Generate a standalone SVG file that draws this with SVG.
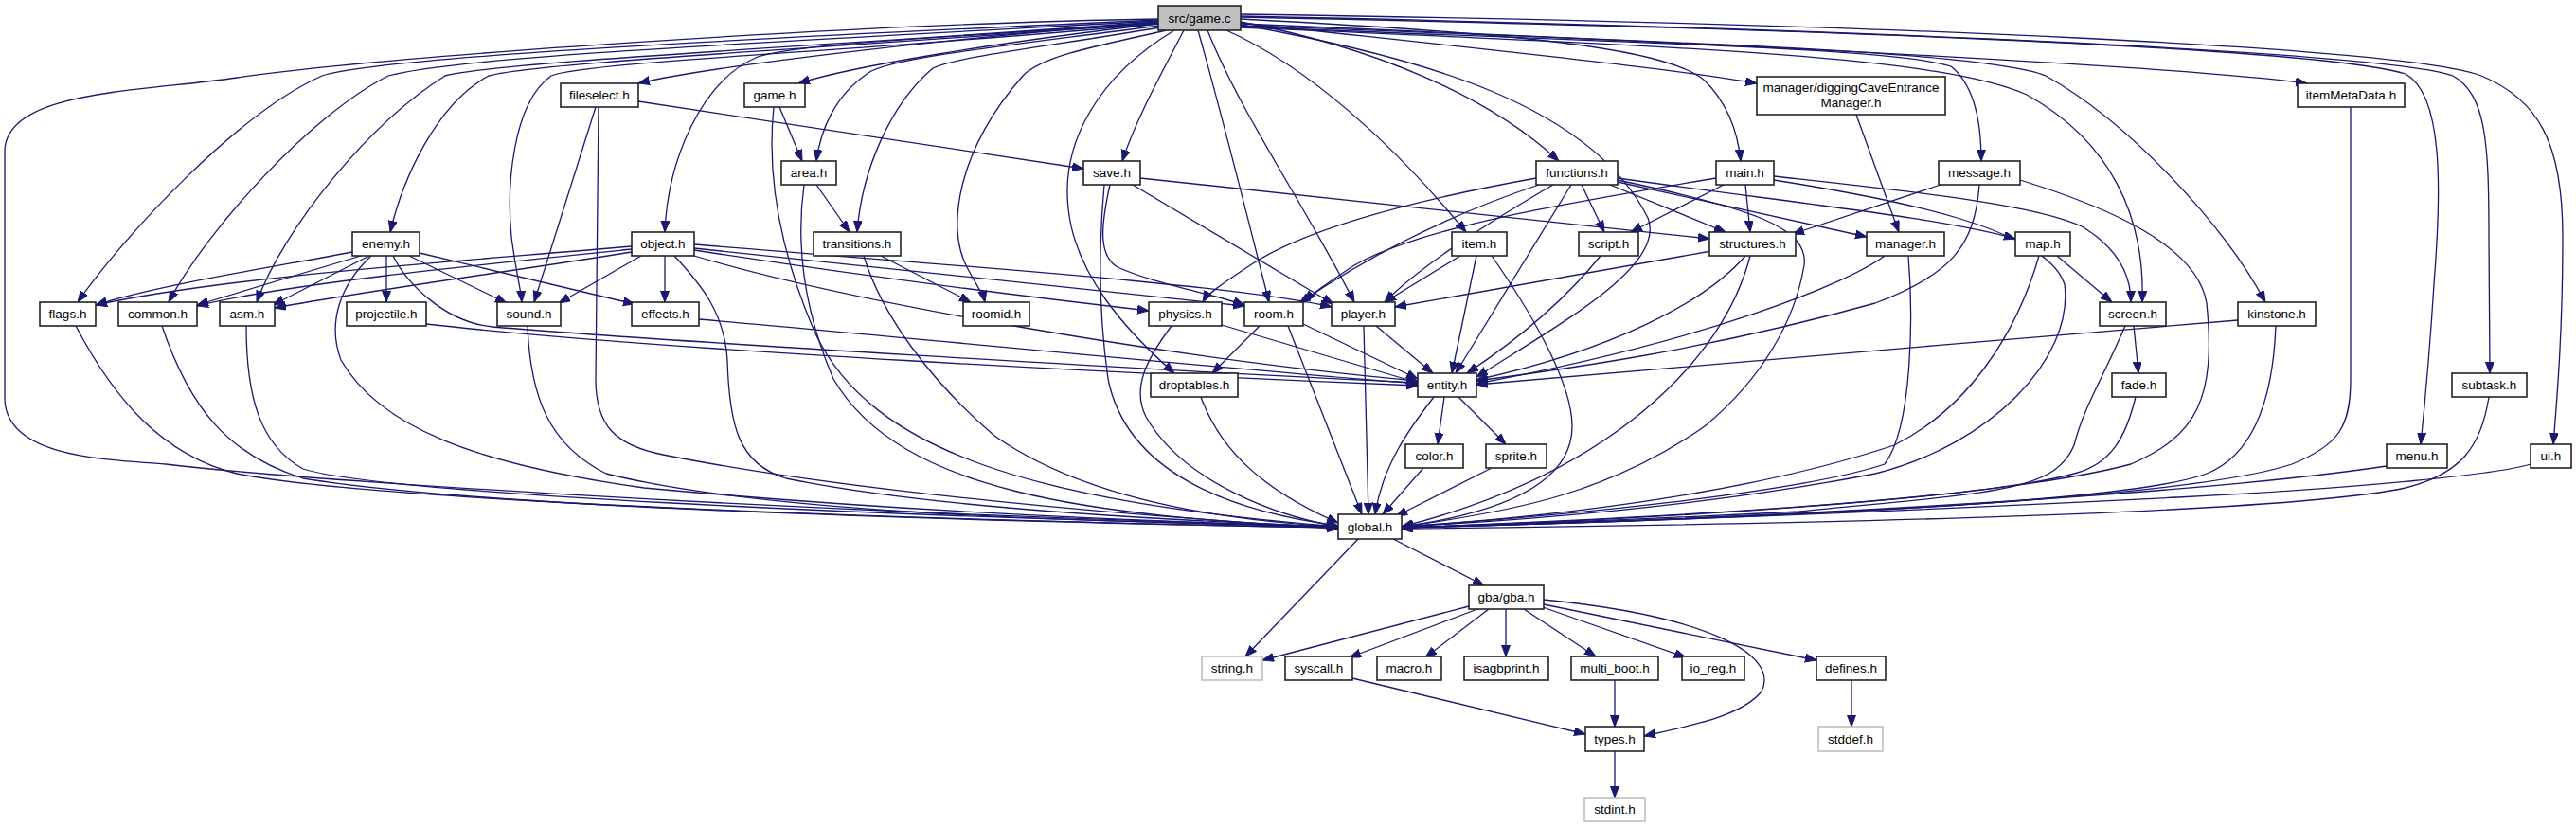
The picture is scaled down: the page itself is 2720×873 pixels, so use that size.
<svg xmlns="http://www.w3.org/2000/svg" width="2720" height="873" viewBox="0 0 2720 873">
<style>
.e{fill:none;stroke:#191970;stroke-width:1.3;marker-end:url(#a)}
.n rect{fill:#fff;stroke:#222;stroke-width:1.6}
.n.g rect{stroke:#bfbfbf}
.n.r rect{fill:#bfbfbf}
.n text{font-family:"Liberation Sans",Arial,sans-serif;font-size:13.5px;fill:#000;text-anchor:middle}
</style>
<defs>
<marker id="a" markerWidth="13" markerHeight="10" refX="12" refY="4.5" orient="auto" markerUnits="userSpaceOnUse"><path d="M0,0 L12,4.5 L0,9 z" fill="#191970" stroke="#191970" stroke-width="1"/></marker>
</defs>
<rect width="2720" height="873" fill="#fff"/>
<g id="edges">
<!-- from src/game.c -->
<path class="e" d="M1223,20 C900,25 400,60 250,82 C150,97 5,95 5,160 L5,420 C5,480 100,485 175,490 C300,505 800,540 1413,556"/>
<path class="e" d="M1223,21 C800,40 400,60 340,80 C250,120 130,250 82,319"/>
<path class="e" d="M1223,22 C800,45 480,60 410,80 C330,120 220,240 178,319"/>
<path class="e" d="M1223,23 C850,50 530,65 470,80 C390,130 300,240 271,319"/>
<path class="e" d="M1223,24 C900,50 570,65 516,80 C460,110 425,190 412,245"/>
<path class="e" d="M1223,25 C900,55 620,65 582,80 C540,110 535,200 540,250 C545,290 550,305 551,319"/>
<path class="e" d="M1223,23 C1000,40 750,70 674,88"/>
<path class="e" d="M1223,24 C1000,40 850,45 800,60 C740,85 705,170 702,245"/>
<path class="e" d="M1223,25 C1050,45 900,70 843,88"/>
<path class="e" d="M1224,27 C1050,50 950,60 920,75 C880,100 866,140 862,170"/>
<path class="e" d="M1225,29 C1100,50 1010,60 985,72 C940,110 910,180 905,245"/>
<path class="e" d="M1232,32 C1150,50 1100,60 1080,80 C1010,160 1000,240 1020,280 C1030,300 1038,310 1040,319"/>
<path class="e" d="M1240,32 C1160,80 1120,150 1128,220 C1135,290 1190,350 1240,394"/>
<path class="e" d="M1250,32 C1225,80 1200,125 1185,170"/>
<path class="e" d="M1265,32 C1290,120 1320,240 1340,319"/>
<path class="e" d="M1275,32 C1310,120 1380,220 1430,319"/>
<path class="e" d="M1295,32 C1380,70 1470,150 1548,245"/>
<path class="e" d="M1310,26 C1500,60 1680,110 1740,230 C1760,280 1650,340 1559,398"/>
<path class="e" d="M1310,23 C1450,50 1570,100 1646,170"/>
<path class="e" d="M1310,24 C1500,45 1750,70 1855,88"/>
<path class="e" d="M1310,20 C1600,35 1760,50 1800,85 C1825,110 1835,140 1838,170"/>
<path class="e" d="M1310,28 C1700,45 2000,50 2060,70 C2085,90 2092,130 2092,170"/>
<path class="e" d="M1310,29 C1800,50 2050,60 2140,100 C2230,150 2265,230 2262,319"/>
<path class="e" d="M1310,27 C1800,45 2100,55 2160,80 C2250,130 2350,240 2392,319"/>
<path class="e" d="M1310,25 C1900,50 2300,70 2436,88"/>
<path class="e" d="M1310,18 C1900,30 2450,50 2540,78 C2580,100 2578,200 2570,300 C2565,380 2560,430 2556,469"/>
<path class="e" d="M1310,17 C1950,30 2520,55 2590,80 C2625,100 2628,150 2628,250 L2629,394"/>
<path class="e" d="M1310,15 C2000,25 2540,50 2620,80 C2680,105 2706,150 2706,250 C2706,350 2700,420 2696,469"/>
<!-- fileselect.h -->
<path class="e" d="M674,107 L1144,178"/>
<path class="e" d="M629,113 L564,319"/>
<path class="e" d="M632,113 L629,400 C629,450 650,470 700,480 C900,520 1200,545 1413,558"/>
<!-- game.h -->
<path class="e" d="M823,113 L847,170"/>
<path class="e" d="M817,113 C808,200 830,280 860,350 C920,480 1100,530 1413,556"/>
<!-- area.h -->
<path class="e" d="M862,195 L897,245"/>
<path class="e" d="M849,195 C840,260 850,330 880,400 C950,520 1150,545 1413,557"/>
<!-- save.h -->
<path class="e" d="M1204,188 L1805,252"/>
<path class="e" d="M1196,195 L1408,321"/>
<path class="e" d="M1172,195 C1162,240 1160,270 1180,282 C1220,300 1280,310 1314,322"/>
<path class="e" d="M1166,195 C1160,260 1160,330 1170,400 C1190,500 1300,540 1413,555"/>
<!-- functions.h -->
<path class="e" d="M1700,195 L1822,245"/>
<path class="e" d="M1708,192 L1971,250"/>
<path class="e" d="M1708,188 C1900,215 2050,230 2128,252"/>
<path class="e" d="M1708,190 C1850,220 1910,240 1905,280 C1895,340 1860,400 1800,450 C1700,520 1600,540 1480,556"/>
<path class="e" d="M1670,195 L1694,245"/>
<path class="e" d="M1659,195 L1537,394"/>
<path class="e" d="M1625,195 C1550,220 1460,260 1372,320"/>
<path class="e" d="M1640,195 C1580,230 1500,280 1462,319"/>
<path class="e" d="M1622,188 C1500,210 1380,240 1320,280 C1290,300 1275,310 1270,319"/>
<!-- main.h -->
<path class="e" d="M1820,195 L1722,245"/>
<path class="e" d="M1843,195 L1848,245"/>
<path class="e" d="M1873,186 C2000,200 2150,215 2200,240 C2240,265 2250,295 2250,319"/>
<path class="e" d="M1873,190 C2000,210 2160,240 2180,300 C2190,380 2100,470 1980,500 C1800,535 1600,550 1480,556"/>
<path class="e" d="M1812,188 C1650,215 1500,240 1430,280 C1400,300 1385,310 1378,319"/>
<!-- message.h -->
<path class="e" d="M2049,195 L1893,247"/>
<path class="e" d="M2090,195 C2085,260 2060,290 1980,320 C1800,370 1650,390 1559,402"/>
<path class="e" d="M2133,190 C2230,220 2320,260 2330,320 C2340,420 2320,460 2250,490 C2100,530 1700,550 1480,557"/>
<!-- digging / manager.h -->
<path class="e" d="M1960,121 L2005,245"/>
<path class="e" d="M1990,270 C1950,300 1800,360 1559,405"/>
<path class="e" d="M2015,270 C2020,330 2020,450 1990,490 C1900,520 1650,545 1480,556"/>
<!-- item.h -->
<path class="e" d="M1542,270 L1462,319"/>
<path class="e" d="M1559,270 L1533,394"/>
<path class="e" d="M1575,270 C1610,320 1660,400 1660,450 C1660,520 1560,545 1480,556"/>
<!-- script.h -->
<path class="e" d="M1690,270 C1650,320 1600,360 1549,394"/>
<!-- structures.h -->
<path class="e" d="M1807,265 L1473,324"/>
<path class="e" d="M1843,270 C1800,320 1700,370 1559,401"/>
<path class="e" d="M1848,270 C1820,380 1700,500 1480,556"/>
<!-- map.h -->
<path class="e" d="M2172,270 L2230,319"/>
<path class="e" d="M2153,270 C2130,350 2080,430 2000,470 C1850,520 1650,545 1480,556"/>
<!-- screen.h -->
<path class="e" d="M2253,344 L2258,394"/>
<path class="e" d="M2244,344 C2220,400 2200,430 2190,470 C2170,520 2100,520 1900,540 C1700,550 1550,555 1480,557"/>
<!-- kinstone.h -->
<path class="e" d="M2363,338 C2100,360 1800,385 1559,406"/>
<path class="e" d="M2403,344 C2400,420 2380,480 2330,500 C2250,530 1900,545 1480,557"/>
<!-- fade.h, itemMetaData.h, subtask.h, menu.h, ui.h -->
<path class="e" d="M2255,419 C2245,460 2230,490 2190,500 C2100,525 1800,545 1480,557"/>
<path class="e" d="M2482,113 L2482,400 C2482,450 2470,470 2420,490 C2300,530 1800,550 1480,557"/>
<path class="e" d="M2628,419 C2620,470 2600,500 2540,515 C2400,545 1800,555 1480,558"/>
<path class="e" d="M2520,492 C2300,525 1800,550 1480,557"/>
<path class="e" d="M2672,490 C2640,500 2500,515 2300,525 C2000,540 1700,552 1480,557"/>
<!-- enemy.h -->
<path class="e" d="M372,266 C300,280 170,300 101,322"/>
<path class="e" d="M381,270 L208,322"/>
<path class="e" d="M390,270 L288,322"/>
<path class="e" d="M408,270 L408,319"/>
<path class="e" d="M432,270 L535,320"/>
<path class="e" d="M443,267 L670,321"/>
<path class="e" d="M415,270 C430,300 470,340 520,345 C700,360 1200,390 1497,404"/>
<path class="e" d="M392,270 C360,300 345,340 360,380 C400,450 500,490 680,515 C1000,545 1300,553 1413,556"/>
<!-- object.h -->
<path class="e" d="M667,260 C500,275 250,290 101,322"/>
<path class="e" d="M667,263 C500,280 300,300 208,323"/>
<path class="e" d="M667,266 C550,285 400,305 290,325"/>
<path class="e" d="M677,270 L590,320"/>
<path class="e" d="M702,270 L702,319"/>
<path class="e" d="M712,270 C740,300 765,330 768,380 C770,450 780,490 830,505 C1000,540 1300,552 1413,556"/>
<path class="e" d="M733,270 C900,320 1250,380 1497,402"/>
<path class="e" d="M733,264 C900,290 1100,315 1213,328"/>
<path class="e" d="M733,262 C950,285 1200,310 1314,323"/>
<path class="e" d="M733,258 C1000,280 1300,300 1406,324"/>
<!-- transitions.h -->
<path class="e" d="M930,270 L1025,319"/>
<path class="e" d="M912,270 C930,330 980,400 1050,460 C1150,530 1300,550 1413,556"/>
<!-- rank 4 -->
<path class="e" d="M80,344 C120,420 170,480 250,500 C400,530 1000,550 1413,557"/>
<path class="e" d="M171,344 C200,430 240,480 320,505 C500,535 1000,550 1413,557"/>
<path class="e" d="M260,344 C260,420 275,470 320,495 C400,520 900,545 1413,556"/>
<path class="e" d="M557,344 C560,420 580,470 640,500 C800,540 1100,550 1413,556"/>
<path class="e" d="M450,342 C700,370 1200,395 1497,407"/>
<path class="e" d="M738,337 C1000,360 1300,390 1497,405"/>
<path class="e" d="M1290,343 C1380,370 1450,390 1497,404"/>
<path class="e" d="M1237,344 C1210,380 1195,410 1210,440 C1250,510 1350,545 1413,556"/>
<path class="e" d="M1330,344 L1280,394"/>
<path class="e" d="M1376,342 L1497,400"/>
<path class="e" d="M1360,344 L1438,543"/>
<path class="e" d="M1453,344 L1513,394"/>
<path class="e" d="M1440,344 L1445,543"/>
<path class="e" d="M1268,419 C1290,480 1340,520 1413,552"/>
<!-- entity.h -->
<path class="e" d="M1525,419 L1518,469"/>
<path class="e" d="M1540,419 L1590,469"/>
<path class="e" d="M1514,419 C1490,450 1460,490 1452,543"/>
<path class="e" d="M1503,494 L1460,543"/>
<path class="e" d="M1575,494 L1474,545"/>
<!-- global.h -->
<path class="e" d="M1434,569 L1315,693"/>
<path class="e" d="M1471,569 L1567,618"/>
<!-- gba/gba.h -->
<path class="e" d="M1551,640 L1333,697"/>
<path class="e" d="M1560,643 L1425,694"/>
<path class="e" d="M1572,643 L1505,694"/>
<path class="e" d="M1590,643 L1590,693"/>
<path class="e" d="M1609,643 L1685,693"/>
<path class="e" d="M1629,641 L1780,694"/>
<path class="e" d="M1630,638 L1918,697"/>
<path class="e" d="M1630,633 C1800,650 1880,690 1860,730 C1840,755 1790,765 1736,777"/>
<path class="e" d="M1428,716 L1674,775"/>
<path class="e" d="M1705,718 L1705,767"/>
<path class="e" d="M1705,793 L1705,842"/>
<path class="e" d="M1955,718 L1955,767"/>
</g>
<g id="n_game_c" class="n r"><rect x="1223" y="6" width="87" height="26"/><text x="1266.5" y="24">src/game.c</text></g>
<g id="n_fileselect" class="n"><rect x="592" y="88" width="82" height="25"/><text x="633" y="105">fileselect.h</text></g>
<g id="n_game_h" class="n"><rect x="786" y="88" width="64" height="25"/><text x="818" y="105">game.h</text></g>
<g id="n_digging" class="n"><rect x="1855" y="81" width="199" height="40"/><text x="1954.5" y="97">manager/diggingCaveEntrance</text><text x="1954.5" y="113">Manager.h</text></g>
<g id="n_itemMetaData" class="n"><rect x="2426" y="88" width="113" height="25"/><text x="2482.5" y="105">itemMetaData.h</text></g>
<g id="n_area" class="n"><rect x="825" y="170" width="58" height="25"/><text x="854" y="187">area.h</text></g>
<g id="n_save" class="n"><rect x="1144" y="170" width="60" height="25"/><text x="1174" y="187">save.h</text></g>
<g id="n_functions" class="n"><rect x="1622" y="170" width="86" height="25"/><text x="1665" y="187">functions.h</text></g>
<g id="n_main" class="n"><rect x="1812" y="170" width="61" height="25"/><text x="1842.5" y="187">main.h</text></g>
<g id="n_message" class="n"><rect x="2047" y="170" width="86" height="25"/><text x="2090" y="187">message.h</text></g>
<g id="n_enemy" class="n"><rect x="372" y="245" width="71" height="25"/><text x="407.5" y="262">enemy.h</text></g>
<g id="n_object" class="n"><rect x="667" y="245" width="66" height="25"/><text x="700" y="262">object.h</text></g>
<g id="n_transitions" class="n"><rect x="859" y="245" width="92" height="25"/><text x="905" y="262">transitions.h</text></g>
<g id="n_item" class="n"><rect x="1533" y="245" width="58" height="25"/><text x="1562" y="262">item.h</text></g>
<g id="n_script" class="n"><rect x="1667" y="245" width="63" height="25"/><text x="1698.5" y="262">script.h</text></g>
<g id="n_structures" class="n"><rect x="1805" y="245" width="91" height="25"/><text x="1850.5" y="262">structures.h</text></g>
<g id="n_manager" class="n"><rect x="1971" y="245" width="82" height="25"/><text x="2012" y="262">manager.h</text></g>
<g id="n_map" class="n"><rect x="2128" y="245" width="58" height="25"/><text x="2157" y="262">map.h</text></g>
<g id="n_flags" class="n"><rect x="42" y="319" width="59" height="25"/><text x="71.5" y="336">flags.h</text></g>
<g id="n_common" class="n"><rect x="125" y="319" width="83" height="25"/><text x="166.5" y="336">common.h</text></g>
<g id="n_asm" class="n"><rect x="232" y="319" width="58" height="25"/><text x="261" y="336">asm.h</text></g>
<g id="n_projectile" class="n"><rect x="366" y="319" width="84" height="25"/><text x="408" y="336">projectile.h</text></g>
<g id="n_sound" class="n"><rect x="525" y="319" width="67" height="25"/><text x="558.5" y="336">sound.h</text></g>
<g id="n_effects" class="n"><rect x="667" y="319" width="71" height="25"/><text x="702.5" y="336">effects.h</text></g>
<g id="n_roomid" class="n"><rect x="1017" y="319" width="70" height="25"/><text x="1052" y="336">roomid.h</text></g>
<g id="n_physics" class="n"><rect x="1213" y="319" width="77" height="25"/><text x="1251.5" y="336">physics.h</text></g>
<g id="n_room" class="n"><rect x="1314" y="319" width="62" height="25"/><text x="1345" y="336">room.h</text></g>
<g id="n_player" class="n"><rect x="1406" y="319" width="67" height="25"/><text x="1439.5" y="336">player.h</text></g>
<g id="n_screen" class="n"><rect x="2217" y="319" width="70" height="25"/><text x="2252" y="336">screen.h</text></g>
<g id="n_kinstone" class="n"><rect x="2363" y="319" width="82" height="25"/><text x="2404" y="336">kinstone.h</text></g>
<g id="n_droptables" class="n"><rect x="1215" y="394" width="92" height="25"/><text x="1261" y="411">droptables.h</text></g>
<g id="n_entity" class="n"><rect x="1497" y="394" width="62" height="25"/><text x="1528" y="411">entity.h</text></g>
<g id="n_fade" class="n"><rect x="2230" y="394" width="57" height="25"/><text x="2258.5" y="411">fade.h</text></g>
<g id="n_subtask" class="n"><rect x="2589" y="394" width="79" height="25"/><text x="2628.5" y="411">subtask.h</text></g>
<g id="n_color" class="n"><rect x="1484" y="469" width="61" height="25"/><text x="1514.5" y="486">color.h</text></g>
<g id="n_sprite" class="n"><rect x="1569" y="469" width="64" height="25"/><text x="1601" y="486">sprite.h</text></g>
<g id="n_menu" class="n"><rect x="2520" y="469" width="64" height="25"/><text x="2552" y="486">menu.h</text></g>
<g id="n_ui" class="n"><rect x="2672" y="469" width="43" height="25"/><text x="2693.5" y="486">ui.h</text></g>
<g id="n_global" class="n"><rect x="1413" y="543" width="67" height="26"/><text x="1446.5" y="561">global.h</text></g>
<g id="n_gba" class="n"><rect x="1551" y="618" width="79" height="25"/><text x="1590.5" y="635">gba/gba.h</text></g>
<g id="n_string" class="n g"><rect x="1269" y="693" width="64" height="25"/><text x="1301" y="710">string.h</text></g>
<g id="n_syscall" class="n"><rect x="1357" y="693" width="71" height="25"/><text x="1392.5" y="710">syscall.h</text></g>
<g id="n_macro" class="n"><rect x="1454" y="693" width="68" height="25"/><text x="1488" y="710">macro.h</text></g>
<g id="n_isagbprint" class="n"><rect x="1546" y="693" width="89" height="25"/><text x="1590.5" y="710">isagbprint.h</text></g>
<g id="n_multi_boot" class="n"><rect x="1659" y="693" width="92" height="25"/><text x="1705" y="710">multi_boot.h</text></g>
<g id="n_io_reg" class="n"><rect x="1776" y="693" width="66" height="25"/><text x="1809" y="710">io_reg.h</text></g>
<g id="n_defines" class="n"><rect x="1918" y="693" width="73" height="25"/><text x="1954.5" y="710">defines.h</text></g>
<g id="n_types" class="n"><rect x="1674" y="767" width="62" height="26"/><text x="1705" y="785">types.h</text></g>
<g id="n_stddef" class="n g"><rect x="1920" y="767" width="68" height="26"/><text x="1954" y="785">stddef.h</text></g>
<g id="n_stdint" class="n g"><rect x="1673" y="842" width="64" height="25"/><text x="1705" y="859">stdint.h</text></g>
</svg>
